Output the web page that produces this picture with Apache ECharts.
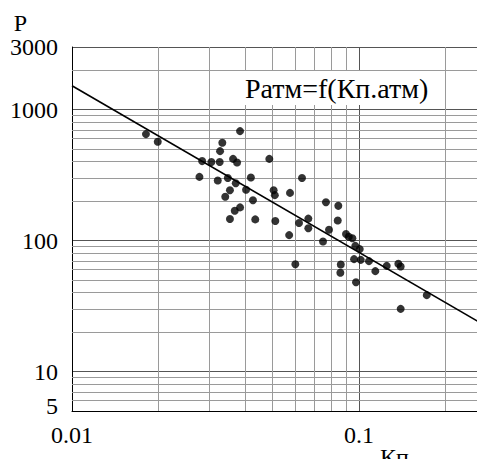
<!DOCTYPE html>
<html><head><meta charset="utf-8">
<script src="https://cdn.jsdelivr.net/npm/echarts@6/dist/echarts.min.js"></script>
<style>html,body{margin:0;padding:0;background:#fff}#c{width:477px;height:459px;background:#fff}</style>
</head><body><div id="c"></div>
<script>
// Measured points: [Kп, P]
var kp = [0.0181,0.0199,0.0385,0.0334,0.0328,0.0284,0.0306,0.0327,0.0364,0.0376,0.0487,
  0.0278,0.0322,0.0349,0.0372,0.0420,0.0633,0.0355,0.0404,0.0504,0.0509,0.0342,0.0427,
  0.0575,0.0385,0.0369,0.0355,0.0435,0.0511,0.0571,0.0618,0.0666,0.0666,
  0.0767,0.0847,0.0843,0.0786,0.0749,0.0600,0.0901,0.0921,0.0948,0.0971,0.1006,0.0864,
  0.0861,0.0961,0.1014,0.1083,0.0976,0.1140,0.1249,0.1371,0.1397,0.1722,0.1397];
var pVals = [649,567,684,557,481,404,397,397,420,394,420,
  306,287,300,274,303,300,242,244,242,222,216,203,
  231,179,169,146,145,141,110,136,147,124,
  196,184,142,121,98.3,66.0,112,107,104,91.1,86.0,65.6,
  56.7,72.1,71.2,69.6,48.1,58.4,64.1,66.4,63.3,38.3,30.1];
// Regression line endpoints
var fitK = [0.01, 0.26];
var fitP = [1520, 24.1];
// Axis ranges and labels
var xMin = 0.01, xMax = 0.2577;
var yMin = 5, yMax = 3000;
var xMinorGrid = [0.02,0.03,0.04,0.05,0.06,0.07,0.08,0.09,0.2];
var yMinorGrid = [6,7,8,9,20,30,40,50,60,70,80,90,200,300,400,500,600,700,800,900,2000];
var titleText = 'Ратм=f(Кп.атм)';
var xName = 'Кп', yName = 'P';

var pts = kp.map(function(k,i){return [k,pVals[i]];});
var fit = fitK.map(function(k,i){return [k,fitP[i]];});
var serifFont = 'Liberation Serif';
var minorStyle = {color:'#9a9a9a', width:1, type:'solid'};
var marks = [];
xMinorGrid.forEach(function(v){marks.push({xAxis:v});});
yMinorGrid.forEach(function(v){marks.push({yAxis:v});});

var chart = echarts.init(document.getElementById('c'), null, {renderer:'svg'});
chart.setOption({
  animation:false,
  textStyle:{fontFamily:serifFont},
  title:[{text:titleText,left:239,top:71,padding:[3,6,3,6],backgroundColor:'#fff',
    textStyle:{fontFamily:serifFont,fontSize:28,fontWeight:'normal',color:'#000'}}],
  grid:{left:72,top:47,right:0,bottom:48,outerBoundsMode:'none',containLabel:false},
  xAxis:{type:'log',logBase:10,min:xMin,max:xMax,
    name:xName,nameLocation:'end',nameGap:-109,
    nameTextStyle:{fontFamily:serifFont,fontSize:24,fontWeight:'normal',color:'#000',verticalAlign:'top',padding:[34,0,0,0]},
    axisLine:{lineStyle:{color:'#000',width:1}},axisTick:{show:false},
    axisLabel:{fontFamily:serifFont,fontSize:24,color:'#000',margin:12,showMaxLabel:false,
      formatter:function(v){return String(+v.toPrecision(3));}},
    splitLine:{show:true,lineStyle:{color:'#555',width:1}}},
  yAxis:{type:'log',logBase:10,min:yMin,max:yMax,
    name:yName,nameLocation:'end',nameGap:11,
    nameTextStyle:{fontFamily:serifFont,fontSize:24,fontWeight:'normal',color:'#000',align:'right',padding:[0,45,0,0]},
    axisLine:{lineStyle:{color:'#000',width:1}},axisTick:{show:false},
    axisLabel:{fontFamily:serifFont,fontSize:24,color:'#000',margin:14,
      formatter:function(v){var r=Math.round(v);return r===5?'{s|5}':String(r);},
      rich:{s:{fontFamily:serifFont,fontSize:24,color:'#000',padding:[0,0,10,0]}}},
    splitLine:{show:true,lineStyle:{color:'#555',width:1}}},
  series:[
    {type:'line',data:fit,showSymbol:false,symbol:'none',silent:true,z:3,
      lineStyle:{color:'#000',width:1.6},
      markLine:{silent:true,symbol:['none','none'],label:{show:false},lineStyle:minorStyle,
        z:1,animation:false,data:marks}},
    {type:'scatter',data:pts,symbol:'circle',symbolSize:8,itemStyle:{color:'#000'},z:4}
  ]
});
</script></body></html>
